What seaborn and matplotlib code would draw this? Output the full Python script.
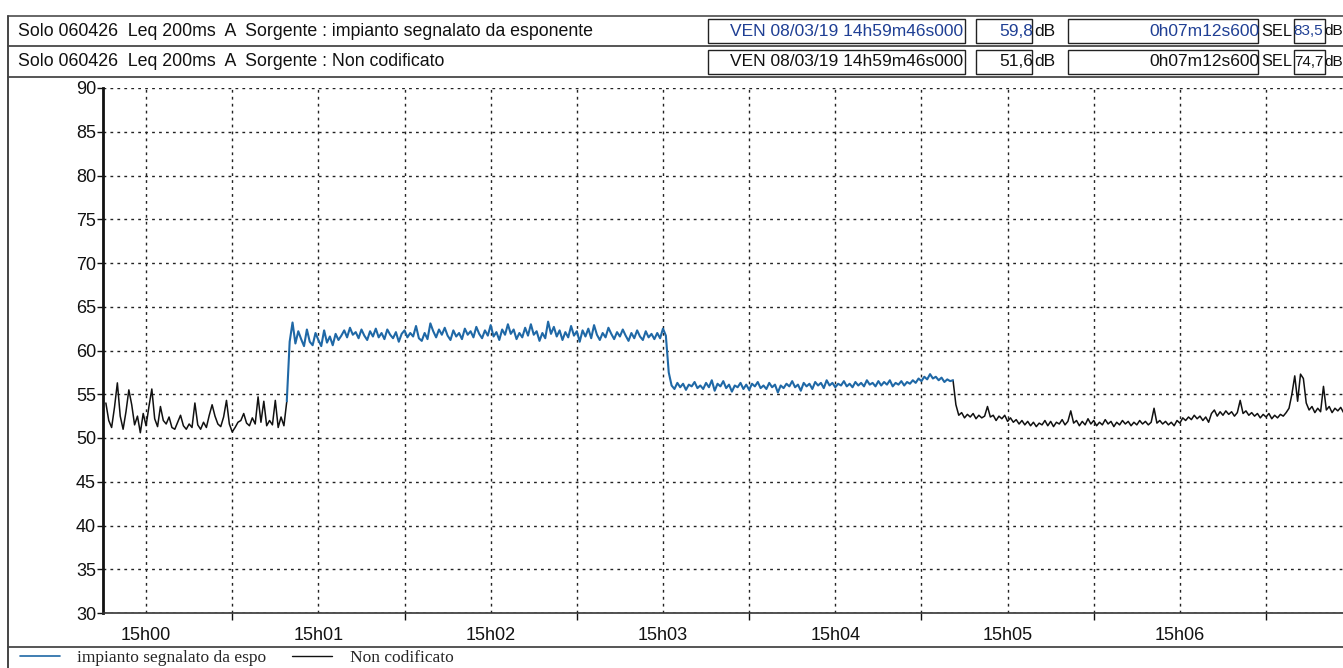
import numpy as np
import pandas as pd
import matplotlib
matplotlib.use("Agg")
import matplotlib.pyplot as plt
from matplotlib.lines import Line2D
from matplotlib.patches import Rectangle
from matplotlib.font_manager import FontProperties
import seaborn as sns

# ---------------- data (seconds after 15h00m00s, dB(A)) ----------------
# "Non codificato" before the coded source (t = -14 .. 49 s)
nc_pre = [54.0, 52.0, 51.2, 53.5, 56.3, 52.5, 51.0, 53.0, 55.5, 53.8,
          51.5, 52.5, 50.6, 52.8, 51.4, 53.6, 55.6, 52.2, 51.3, 53.6,
          52.0, 51.6, 52.4, 51.2, 51.0, 51.8, 52.6, 51.4, 51.0, 51.6,
          51.2, 54.0, 51.5, 51.0, 51.8, 51.2, 52.6, 53.8, 52.5, 51.6,
          51.3, 52.4, 54.3, 51.6, 50.7, 51.2, 51.8, 52.0, 52.8, 51.7,
          51.4, 52.3, 51.6, 54.7, 51.8, 54.2, 51.4, 52.0, 51.5, 54.3,
          51.2, 52.4, 51.4, 54.2]
# "impianto segnalato da esponente": start (t = 49), high part (t = 50 .. 181)
imp_start = [54.2]
imp_high = [61.0, 63.2, 60.8, 62.2, 61.3, 60.5, 62.4, 61.0, 60.6, 62.0,
            61.2, 60.5, 62.3, 60.9, 61.6, 60.6, 61.9, 61.2, 61.7, 62.3,
            61.5, 62.6, 61.8, 62.1, 61.4, 62.4, 61.7, 61.2, 62.2, 61.6,
            62.5, 61.5, 62.0, 61.3, 62.4, 61.8, 61.4, 62.1, 61.0, 61.9,
            62.3, 61.5, 62.0, 61.6, 62.8, 61.4, 61.1, 62.0, 61.3, 63.1,
            62.2, 61.5, 62.4, 61.8, 62.6, 61.7, 61.2, 62.3, 61.6, 62.0,
            61.3, 62.5, 61.8, 62.2, 61.5, 62.7, 61.9, 61.4, 62.3, 61.7,
            62.9, 61.6, 62.1, 61.2, 62.4, 61.8, 63.0, 61.9, 62.4, 61.3,
            62.0, 61.5, 62.6, 61.7, 63.0, 61.8, 62.2, 61.1, 62.0, 61.4,
            63.3, 61.9, 62.7, 61.6, 62.3, 61.2, 62.1, 61.5, 62.8, 61.7,
            62.2, 61.0, 62.3, 61.6, 62.5, 61.4, 62.9, 61.8, 61.2, 62.0,
            61.5, 62.6, 61.9, 61.3, 62.1, 61.6, 62.4, 61.7, 61.1, 62.0,
            61.4, 62.3, 61.6, 61.2, 62.2, 61.5, 61.9, 61.3, 62.0, 61.4,
            62.5, 61.7]
# low part (t = 182 .. 281)
imp_low = [57.5, 56.0, 55.6, 56.3, 55.8, 56.2, 55.5, 56.1, 55.9, 56.4,
           55.7, 56.0, 55.6, 56.3, 55.8, 56.6, 55.4, 56.2, 55.9, 56.5,
           55.7, 56.1, 55.3, 56.0, 55.8, 56.3, 55.6, 56.1, 55.5, 56.2,
           55.9, 56.4, 55.7, 56.0, 55.6, 56.3, 55.8, 56.1, 55.2, 56.0,
           55.7, 56.2, 55.9, 56.5, 55.8, 56.1, 55.4, 56.3, 55.9, 56.2,
           55.6, 56.4, 56.0, 56.3, 55.7, 56.6, 56.0, 56.3, 55.8, 56.2,
           56.0, 56.5, 55.9, 56.2, 55.8, 56.4, 56.0, 56.3, 55.9, 56.6,
           56.1, 56.3, 55.9, 56.5, 56.0, 56.4, 56.1, 56.6, 55.9, 56.3,
           56.1, 56.5, 56.0, 56.4, 56.2, 56.6, 56.3, 56.8, 56.5, 57.0,
           56.7, 57.3, 56.8, 57.0, 56.6, 56.9, 56.4, 56.7, 56.5, 56.6]
# "Non codificato" after the coded source (t = 282 .. 418)
nc_post = [53.8, 52.6, 52.9, 52.3, 52.7, 52.4, 52.8, 52.2, 52.6, 52.3,
           52.5, 53.6, 52.4, 52.6, 52.0, 52.5, 52.2, 52.6, 51.9, 52.3,
           51.8, 52.1, 51.6, 52.0, 51.5, 51.9, 51.4, 51.8, 51.3, 51.7,
           51.5, 52.0, 51.4, 51.9, 51.3, 51.8, 51.6, 52.1, 51.5, 51.9,
           53.1, 51.7, 52.0, 51.4, 51.9, 51.5, 52.2, 51.6, 52.0, 51.4,
           51.8, 51.5, 52.1, 51.6, 51.9, 51.3, 51.8, 51.5, 52.0, 51.6,
           51.9, 51.4, 51.8, 51.5, 52.0, 51.6, 51.9, 51.5, 51.8, 53.4,
           51.7, 52.0, 51.6, 51.9, 51.5, 51.8, 51.4, 52.0, 51.7, 52.3,
           52.0, 52.4, 52.1, 52.6, 52.2, 52.5, 52.0, 52.4, 51.8, 52.8,
           53.2, 52.5, 53.0, 52.6, 53.1, 52.7, 53.0, 52.5, 52.9, 54.3,
           52.8, 53.1, 52.6, 52.9, 52.5, 52.8, 52.3, 52.7, 52.4, 52.8,
           52.2, 52.6, 52.3, 52.7, 52.5, 52.9, 53.4, 55.0, 57.1, 54.2,
           57.3, 56.8, 54.0, 53.2, 53.6, 52.9, 53.4, 53.0, 55.9, 53.2,
           53.6, 52.9, 53.4, 53.1, 53.5, 52.9, 53.3]

x_ticks = [0, 60, 120, 180, 240, 300, 360]
x_tick_labels = ["15h00", "15h01", "15h02", "15h03", "15h04", "15h05", "15h06"]
y_ticks = list(range(30, 95, 5))

imp_vals = imp_start + imp_high + imp_low
t_imp = np.arange(49, 49 + len(imp_vals))
t_pre = np.arange(-14, -14 + len(nc_pre))
t_post = np.arange(281, 281 + 1 + len(nc_post))
post_vals = [imp_low[-1]] + nc_post

df_nc = pd.DataFrame({
    "t": np.concatenate([t_pre, t_post]),
    "db": nc_pre + post_vals,
    "seg": ["a"] * len(nc_pre) + ["b"] * len(post_vals),
})
df_imp = pd.DataFrame({"t": t_imp, "db": imp_vals})

# ---------------- figure ----------------
sns.set_style("white")
plt.rcParams["font.family"] = ["Liberation Sans", "DejaVu Sans"]

W, H = 1343, 668
fig = plt.figure(figsize=(W / 100, H / 100), dpi=100)
fig.patch.set_facecolor("white")

def fx(x):
    return x / W

def fy(y):
    return 1 - y / H

ax = fig.add_axes([fx(103), fy(613), (W - 103) / W, 525 / H])

BLACK = "#111111"
BLUE = "#1f68a6"

sns.lineplot(data=df_nc, x="t", y="db", units="seg", estimator=None,
             color=BLACK, lw=1.1, ax=ax, zorder=3)
sns.lineplot(data=df_imp, x="t", y="db", color=BLUE, lw=1.5, ax=ax, zorder=4)

ax.set_xlim(-15, 416.8)
ax.set_ylim(30, 90)
ax.set_xlabel("")
ax.set_ylabel("")

ax.set_xticks(x_ticks)
ax.set_xticklabels(x_tick_labels)
ax.set_xticks([t + 30 for t in x_ticks], minor=True)
ax.set_yticks(y_ticks)
ax.set_yticklabels([str(v) for v in y_ticks])

ax.tick_params(axis="x", which="major", length=0, pad=10, labelsize=13, colors=BLACK)
ax.tick_params(axis="x", which="minor", length=5, width=1.0, direction="out",
               color=BLACK, bottom=True)
ax.tick_params(axis="y", which="major", length=4, width=1.0, pad=1,
               labelsize=13, colors=BLACK, left=True)

ax.grid(False)
ax.grid(True, axis="x", which="both", linestyle=(0, (2, 3)), color="#222222", lw=1.0)
ax.grid(True, axis="y", which="major", linestyle=(0, (2, 3)), color="#222222", lw=1.0)

for s in ["top", "right"]:
    ax.spines[s].set_visible(False)
ax.spines["left"].set_linewidth(2.0)
ax.spines["left"].set_color(BLACK)
ax.spines["bottom"].set_linewidth(1.2)
ax.spines["bottom"].set_color("#333333")
if ax.get_legend() is not None:
    ax.get_legend().remove()

# ---------------- frame & header ----------------
def hline(y, x0, x1, lw=1.2, color="#333333"):
    fig.add_artist(Line2D([fx(x0), fx(x1)], [fy(y), fy(y)],
                          transform=fig.transFigure, color=color, lw=lw))

def vline(x, y0, y1, lw=1.2, color="#333333"):
    fig.add_artist(Line2D([fx(x), fx(x)], [fy(y0), fy(y1)],
                          transform=fig.transFigure, color=color, lw=lw))

def box(x0, y0, x1, y1, lw=1.0):
    fig.add_artist(Rectangle((fx(x0), fy(y1)), (x1 - x0) / W, (y1 - y0) / H,
                             transform=fig.transFigure, fill=False,
                             edgecolor="#222222", lw=lw))

hline(16, 8, W, lw=1.4, color="#666666")
hline(46, 8, W, lw=1.4, color="#555555")
hline(77, 8, W, lw=1.4, color="#555555")
hline(647, 8, W, lw=1.4, color="#555555")
vline(8, 16, H, lw=1.4, color="#444444")

HDR_BLUE = "#1f3f94"
rows = [
    (31, "Solo 060426  Leq 200ms  A  Sorgente : impianto segnalato da esponente",
     "VEN 08/03/19 14h59m46s000", "59,8", "0h07m12s600", "83,5", HDR_BLUE),
    (62, "Solo 060426  Leq 200ms  A  Sorgente : Non codificato",
     "VEN 08/03/19 14h59m46s000", "51,6", "0h07m12s600", "74,7", BLACK),
]
for yc, left_txt, date_txt, leq_txt, dur_txt, sel_txt, col in rows:
    fig.text(fx(18), fy(yc), left_txt, fontsize=12.8, va="center", ha="left",
             color=BLACK)
    y0, y1 = yc - 12, yc + 12
    box(708, y0, 965, y1)
    box(976, y0, 1032, y1)
    box(1068, y0, 1258, y1)
    box(1294, y0, 1325, y1)
    fig.text(fx(963), fy(yc), date_txt, fontsize=12.5, va="center", ha="right", color=col)
    fig.text(fx(1033), fy(yc), leq_txt, fontsize=12.5, va="center", ha="right", color=col)
    fig.text(fx(1034), fy(yc), "dB", fontsize=12.5, va="center", ha="left", color=BLACK)
    fig.text(fx(1259), fy(yc), dur_txt, fontsize=12.5, va="center", ha="right", color=col)
    fig.text(fx(1261), fy(yc), "SEL", fontsize=11.8, va="center", ha="left", color=BLACK)
    fig.text(fx(1323.3), fy(yc), sel_txt, fontsize=11, va="center", ha="right", color=col)
    fig.text(fx(1324.2), fy(yc), "dB", fontsize=11, va="center", ha="left", color=BLACK)

# ---------------- legend ----------------
handles = [Line2D([], [], color=BLUE, lw=1.2), Line2D([], [], color=BLACK, lw=1.0)]
labels = ["impianto segnalato da espo", "Non codificato"]
fig.legend(handles, labels, loc="center left", bbox_to_anchor=(fx(20), fy(658)),
           ncol=2, frameon=False, borderpad=0, borderaxespad=0,
           prop=FontProperties(family="Liberation Serif", size=12.5),
           handlelength=2.3, handletextpad=1.0, columnspacing=1.5)

fig.savefig("out.png", dpi=100, facecolor="white")
